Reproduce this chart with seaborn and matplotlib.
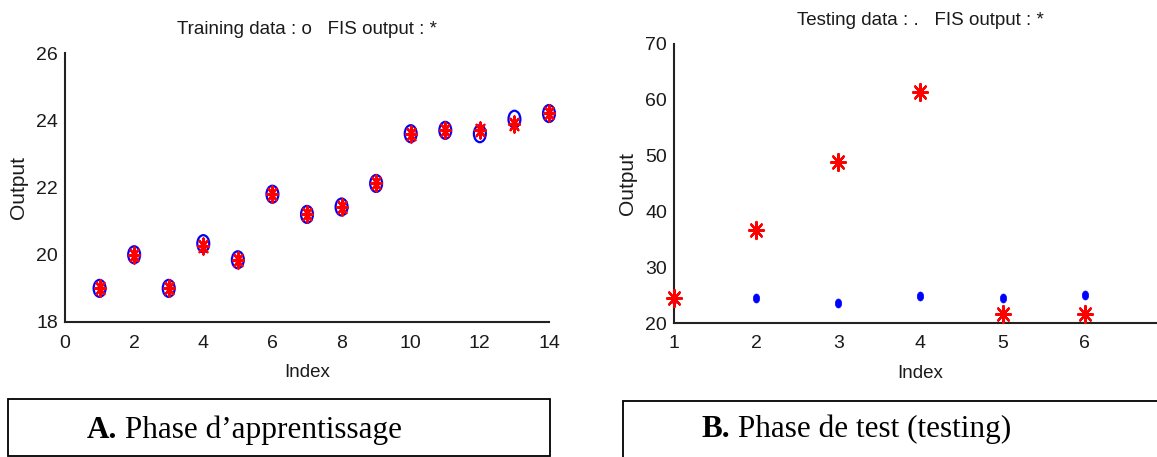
import numpy as np
import pandas as pd
import matplotlib
matplotlib.use("Agg")
import matplotlib.pyplot as plt
import seaborn as sns
from matplotlib.path import Path
from matplotlib.markers import MarkerStyle
from matplotlib.transforms import Affine2D
from matplotlib.patches import Rectangle

# ---------------- data ----------------
train_index = [1, 2, 3, 4, 5, 6, 7, 8, 9, 10, 11, 12, 13, 14]
train_data = [19.0, 20.0, 19.0, 20.33, 19.85, 21.8, 21.2, 21.42, 22.12, 23.6, 23.7, 23.6, 24.03, 24.2]
train_fis = [19.0, 20.0, 19.0, 20.27, 19.83, 21.8, 21.2, 21.42, 22.12, 23.6, 23.7, 23.72, 23.9, 24.22]

test_index = [1, 2, 3, 4, 5, 6]
test_data = [24.3, 24.4, 23.6, 24.8, 24.4, 25.1]
test_fis_index = [1, 2, 3, 4, 5, 6, 7]
test_fis = [24.4, 36.6, 48.8, 61.45, 21.7, 21.7, 21.5]

left_xticks = [0, 2, 4, 6, 8, 10, 12, 14]
left_yticks = [18, 20, 22, 24, 26]
right_xticks = [1, 2, 3, 4, 5, 6]
right_yticks = [20, 30, 40, 50, 60, 70]

title_left = "Training data : o   FIS output : *"
title_right = "Testing data : .   FIS output : *"
caption_a = ("A.", " Phase d\u2019apprentissage")
caption_b = ("B.", " Phase de test (testing)")

# ---------------- style ----------------
sns.set_theme(style="white")
plt.rcParams['font.family'] = ['Liberation Sans', 'DejaVu Sans']
TXT = "#1a1a1a"

W, H = 1157, 457
fig = plt.figure(figsize=(W / 100, H / 100), dpi=100)

def px_ax(l, r, t, b):
    return fig.add_axes([l / W, 1 - b / H, (r - l) / W, (b - t) / H])

ellipse = MarkerStyle(Path.unit_circle().transformed(Affine2D().scale(0.7, 1.0)))
aster_tall = MarkerStyle(Path.unit_regular_asterisk(8).transformed(Affine2D().scale(0.68, 1.0)))
aster_wide = MarkerStyle(Path.unit_regular_asterisk(8).transformed(Affine2D().scale(0.88, 1.0)))

def style_axis(ax, xt, yt):
    for s in ["top", "right"]:
        ax.spines[s].set_visible(False)
    for s in ["left", "bottom"]:
        ax.spines[s].set_linewidth(1.5)
        ax.spines[s].set_color("#222222")
    ax.set_xticks(xt)
    ax.set_yticks(yt)
    ax.tick_params(axis="x", direction="in", length=6, width=1.3, color="#222222",
                   labelsize=14, labelcolor=TXT, pad=9)
    ax.tick_params(axis="y", direction="in", length=3, width=1.3, color="#222222",
                   labelsize=14, labelcolor=TXT, pad=5)
    ax.set_xlabel("Index", fontsize=13.5, color=TXT, labelpad=9)
    ax.set_ylabel("Output", fontsize=15, color=TXT, labelpad=6)
    ax.set_facecolor("white")

# ---------------- left panel ----------------
ax1 = px_ax(65, 549, 53, 322)
sns.scatterplot(x=train_index, y=train_data, marker=ellipse, s=150, facecolors="none",
                edgecolor="blue", linewidth=1.6, ax=ax1, clip_on=False, zorder=3)
sns.scatterplot(x=train_index, y=train_fis, marker=aster_tall, s=135, color="red",
                edgecolor="red", linewidth=1.6, ax=ax1, clip_on=False, zorder=4)
ax1.set_xlim(0, 14)
ax1.set_ylim(18, 26)
style_axis(ax1, left_xticks, left_yticks)
ax1.set_title(title_left, fontsize=13.5, color=TXT, pad=14)

# ---------------- right panel ----------------
ax2 = px_ax(674, 1167, 44, 323)
sns.scatterplot(x=test_index, y=test_data, marker=ellipse, s=42, color="blue",
                edgecolor="blue", linewidth=0.5, ax=ax2, clip_on=False, zorder=3)
sns.scatterplot(x=test_fis_index, y=test_fis, marker=aster_wide, s=150, color="red",
                edgecolor="red", linewidth=1.6, ax=ax2, clip_on=False, zorder=4)
ax2.set_xlim(1, 7)
ax2.set_ylim(20, 70)
style_axis(ax2, right_xticks, right_yticks)
ax2.set_title(title_right, fontsize=13.5, color=TXT, pad=14)

# ---------------- caption boxes ----------------
def fig_rect(l, t, r, b):
    rect = Rectangle((l / W, 1 - b / H), (r - l) / W, (b - t) / H, transform=fig.transFigure,
                     fill=False, edgecolor="black", linewidth=1.3)
    fig.add_artist(rect)

fig_rect(8, 399, 550, 456)
fig_rect(623, 401, 1170, 460)

serif = ['Liberation Serif', 'DejaVu Serif']
def caption(x_px, y_px, parts):
    t1 = fig.text(x_px / W, 1 - y_px / H, parts[0], fontsize=22.5, fontweight="bold",
                  family=serif, ha="left", va="baseline", color="black")
    fig.canvas.draw()
    bb = t1.get_window_extent()
    fig.text(bb.x1 / W, 1 - y_px / H, parts[1], fontsize=22.5, family=serif,
             ha="left", va="baseline", color="black")

caption(87, 438, caption_a)
caption(701, 437, caption_b)

fig.savefig("out.png", dpi=100, facecolor="white")
